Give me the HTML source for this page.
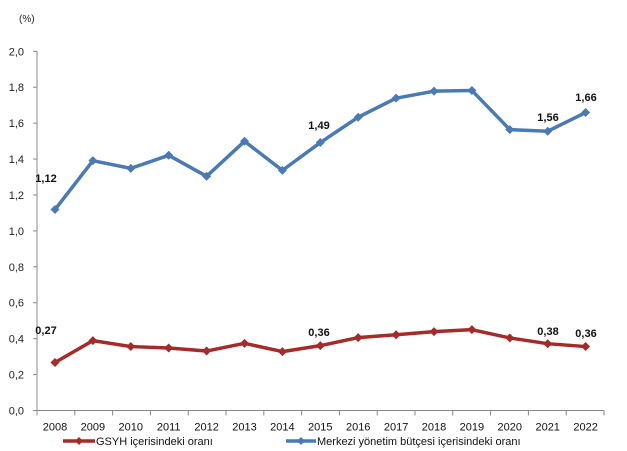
<!DOCTYPE html>
<html><head><meta charset="utf-8"><style>body{margin:0;background:#fff}svg{display:block}</style></head><body>
<svg width="627" height="451" xmlns="http://www.w3.org/2000/svg" font-family="Liberation Sans, Arial, sans-serif">
<rect width="627" height="451" fill="#fff"/>
<text x="19" y="22" font-size="10" fill="#222">(%)</text>
<g font-size="11" fill="#222" text-anchor="end" id="yl"></g>
<g stroke="#888" stroke-width="1" fill="none" id="ax"></g>
<g id="xl" font-size="11" fill="#111" text-anchor="middle"></g>
<polyline id="blue" fill="none" stroke="#4a7ab5" stroke-width="3.5" stroke-linejoin="round"/>
<polyline id="red" fill="none" stroke="#a52a2a" stroke-width="3.5" stroke-linejoin="round"/>
<g id="mk"></g>
<g font-size="11" font-weight="bold" fill="#111" text-anchor="middle">
<text x="46" y="182">1,12</text><text x="319" y="129">1,49</text><text x="548" y="121">1,56</text><text x="586" y="101">1,66</text>
<text x="46" y="334">0,27</text><text x="319" y="336">0,36</text><text x="548" y="335">0,38</text><text x="586" y="337">0,36</text>
</g>
<line x1="63" y1="441" x2="95" y2="441" stroke="#a52a2a" stroke-width="3.5"/>
<path d="M79 437 L83 441 L79 445 L75 441Z" fill="#a52a2a"/>
<text x="96" y="445" font-size="11" fill="#111">GSYH içerisindeki oranı</text>
<line x1="286" y1="441" x2="316" y2="441" stroke="#4a7ab5" stroke-width="3.5"/>
<path d="M301 437 L305 441 L301 445 L297 441Z" fill="#4a7ab5"/>
<text x="317" y="445" font-size="11" fill="#111">Merkezi yönetim bütçesi içerisindeki oranı</text>
<script>
var z=410.5,s=179.6,x0=55,dx=37.9;
var B=[1.119,1.391,1.348,1.421,1.304,1.499,1.337,1.492,1.633,1.739,1.778,1.782,1.564,1.555,1.659];
var R=[0.267,0.389,0.356,0.348,0.331,0.374,0.328,0.361,0.406,0.422,0.439,0.45,0.404,0.372,0.356];
var ns="http://www.w3.org/2000/svg";
function el(t,a,p,txt){var e=document.createElementNS(ns,t);for(var k in a)e.setAttribute(k,a[k]);if(txt)e.textContent=txt;document.getElementById(p).appendChild(e);}
for(var i=0;i<=10;i++){var y=z-i*0.2*s;el("text",{x:24,y:y+4},"yl",(i*0.2).toFixed(1).replace(".",","));el("line",{x1:33,y1:y,x2:37,y2:y},"ax");}
el("line",{x1:37,y1:z-2*s,x2:37,y2:z},"ax");el("line",{x1:37,y1:z,x2:604,y2:z},"ax");
for(var i=0;i<=15;i++){var x=37+i*37.8;el("line",{x1:x,y1:z,x2:x,y2:z+5},"ax");}
var pb=[],pr=[];
for(var i=0;i<15;i++){var x=x0+i*dx;el("text",{x:x,y:z+20},"xl",String(2008+i));
pb.push(x+","+(z-B[i]*s));pr.push(x+","+(z-R[i]*s));}
document.getElementById("blue").setAttribute("points",pb.join(" "));
document.getElementById("red").setAttribute("points",pr.join(" "));
for(var i=0;i<15;i++){var x=x0+i*dx;[[B,"#4a7ab5"],[R,"#a52a2a"]].forEach(function(q){var y=z-q[0][i]*s;el("path",{d:"M"+x+" "+(y-4.5)+"L"+(x+4.5)+" "+y+"L"+x+" "+(y+4.5)+"L"+(x-4.5)+" "+y+"Z",fill:q[1]},"mk");});}
</script>
</svg>
</body></html>
